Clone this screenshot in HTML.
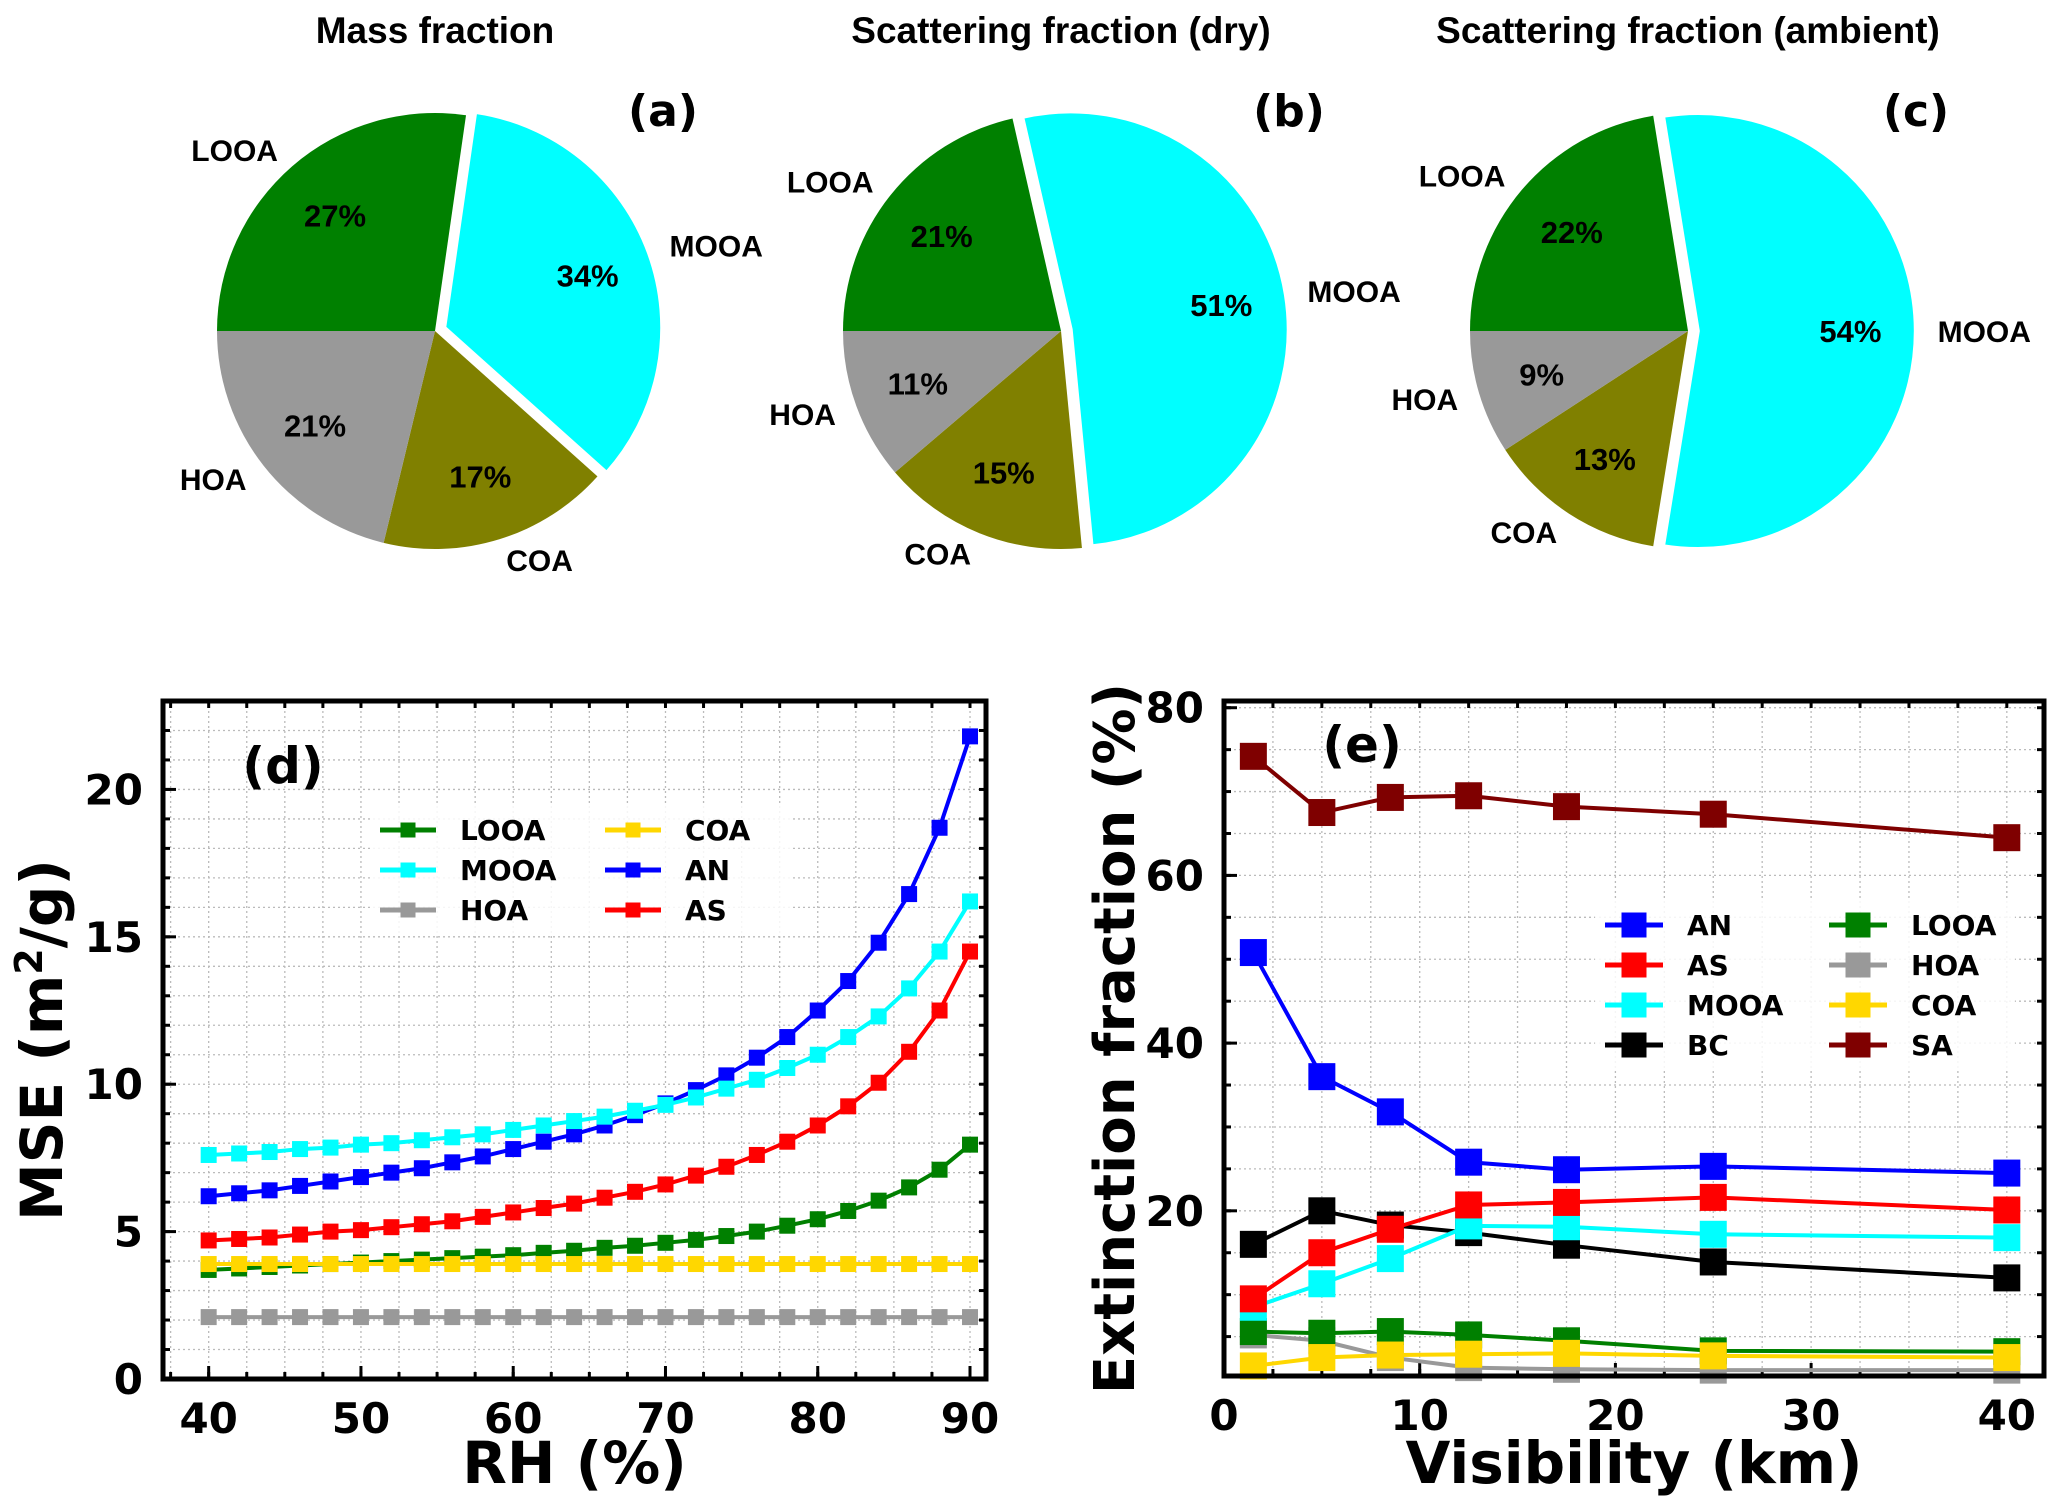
<!DOCTYPE html>
<html><head><meta charset="utf-8"><style>
html,body{margin:0;padding:0;background:#fff;}
svg{display:block;}
text{font-family:"DejaVu Sans","Liberation Sans",sans-serif;font-weight:bold;}
.pl{font-family:"Liberation Sans",sans-serif;font-weight:bold;}
</style></head><body>
<svg id="fig" width="2067" height="1512" viewBox="0 0 2067 1512" xmlns="http://www.w3.org/2000/svg"></svg>
<script>
// ---------- pie data ----------
const pieLabels = ["LOOA","MOOA","COA","HOA"];
const pieColors = ["#008000","#00ffff","#808000","#999999"];
const pieA = [27,34,17,21];
const pieB = [21,51,15,11];
const pieC = [22,54,13,9];
const pieTitles = ["Mass fraction","Scattering fraction (dry)","Scattering fraction (ambient)"];
const pieTags = ["(a)","(b)","(c)"];
// ---------- panel d data ----------
const rh = [40,42,44,46,48,50,52,54,56,58,60,62,64,66,68,70,72,74,76,78,80,82,84,86,88,90];
const dLOOA = [3.7,3.75,3.8,3.85,3.9,3.95,4.0,4.05,4.1,4.15,4.2,4.28,4.35,4.45,4.52,4.62,4.72,4.85,5.0,5.2,5.42,5.7,6.05,6.5,7.1,7.95];
const dMOOA = [7.6,7.65,7.7,7.8,7.85,7.95,8.0,8.1,8.2,8.3,8.45,8.6,8.75,8.9,9.1,9.3,9.55,9.85,10.15,10.55,11.0,11.6,12.3,13.25,14.5,16.2];
const dHOA = [2.1,2.1,2.1,2.1,2.1,2.1,2.1,2.1,2.1,2.1,2.1,2.1,2.1,2.1,2.1,2.1,2.1,2.1,2.1,2.1,2.1,2.1,2.1,2.1,2.1,2.1];
const dCOA = [3.9,3.9,3.9,3.9,3.9,3.9,3.9,3.9,3.9,3.9,3.9,3.9,3.9,3.9,3.9,3.9,3.9,3.9,3.9,3.9,3.9,3.9,3.9,3.9,3.9,3.9];
const dAN = [6.2,6.3,6.4,6.55,6.7,6.85,7.0,7.15,7.35,7.55,7.8,8.05,8.3,8.6,8.95,9.35,9.8,10.3,10.9,11.6,12.5,13.5,14.8,16.45,18.7,21.8];
const dAS = [4.7,4.75,4.8,4.9,5.0,5.05,5.15,5.25,5.35,5.5,5.65,5.8,5.95,6.15,6.35,6.6,6.9,7.2,7.6,8.05,8.6,9.25,10.05,11.1,12.5,14.5];
const dXTicks = [40,50,60,70,80,90];
const dYTicks = [0,5,10,15,20];
// ---------- panel e data ----------
const vis = [1.5,5,8.5,12.5,17.5,25,40];
const eSA = [74.2,67.5,69.3,69.5,68.2,67.3,64.5];
const eAN = [50.8,36,31.8,25.8,24.9,25.3,24.5];
const eAS = [9.5,15,17.8,20.7,21,21.6,20.1];
const eMOOA = [8.5,11.3,14.3,18.2,18.1,17.2,16.8];
const eBC = [16,20,18.3,17.4,15.9,13.9,12];
const eLOOA = [5.6,5.4,5.6,5.2,4.5,3.3,3.2];
const eHOA = [5.2,4.5,2.5,1.3,1.1,1.0,1.0];
const eCOA = [1.5,2.5,2.8,2.9,3.0,2.7,2.5];
const eXTicks = [0,10,20,30,40];
const eYTicks = [20,40,60,80];

const NS="http://www.w3.org/2000/svg";
const svg=document.getElementById('fig');
function mk(tag,attrs,parent,txt){const e=document.createElementNS(NS,tag);for(const k in attrs)e.setAttribute(k,attrs[k]);if(txt!==undefined)e.textContent=txt;(parent||svg).appendChild(e);return e;}

// ---------- pies ----------
const pieData=[pieA,pieB,pieC];
const pieCx=[435,1061,1688], pieCy=331, R=218;
pieData.forEach((vals,pi)=>{
  const g=mk('g',{});
  
  
  const t=mk('text',{x:pieCx[pi],y:43,'text-anchor':'middle','font-size':37,class:'pl'},g,pieTitles[pi]);
  
  
  const tg=mk('text',{x:pieCx[pi]+228,y:126,'text-anchor':'middle','font-size':44},g,pieTags[pi]);
  
  
  const tot=vals.reduce((a,b)=>a+b,0);
  let ang=180;
  vals.forEach((v,i)=>{
    const sweep=v/tot*360;
    const a0=ang, a1=ang-sweep, mid=(a0+a1)/2*Math.PI/180;
    ang=a1;
    const ex = i===1?0.045*R:0;
    const cx=pieCx[pi]+ex*Math.cos(mid), cy=pieCy-ex*Math.sin(mid);
    const p0=[cx+R*Math.cos(a0*Math.PI/180),cy-R*Math.sin(a0*Math.PI/180)];
    const p1=[cx+R*Math.cos(a1*Math.PI/180),cy-R*Math.sin(a1*Math.PI/180)];
    const large=sweep>180?1:0;
    const s=mk('path',{d:`M${cx},${cy} L${p0[0]},${p0[1]} A${R},${R} 0 ${large} 1 ${p1[0]},${p1[1]} Z`,fill:pieColors[i],stroke:'#fff','stroke-width':i===1?4:0},g);
    
    
    const lx=cx+1.1*R*Math.cos(mid), ly=cy-1.1*R*Math.sin(mid);
    const l=mk('text',{x:lx,y:ly+11,'text-anchor':Math.cos(mid)<0?'end':'start','font-size':30,class:'pl'},g,pieLabels[i]);
    
    
    const px=cx+0.7*R*Math.cos(mid), py=cy-0.7*R*Math.sin(mid);
    const pc=mk('text',{x:px,y:py+11,'text-anchor':'middle','font-size':31,class:'pl'},g,Math.round(v)+'%');
    
    
  });
});

// ---------- line chart helper ----------
function chart(o){
  const g=mk('g',{});
  
  
  const X=v=>o.L+(v-o.x0)/(o.x1-o.x0)*(o.R-o.L);
  const Y=v=>o.B-(v-o.y0)/(o.y1-o.y0)*(o.B-o.T);
  for(let v=o.gx0;v<=o.x1;v+=o.gdx){if(v<o.x0)continue;mk('line',{x1:X(v),x2:X(v),y1:o.T,y2:o.B,stroke:'#bbb','stroke-width':1.3,'stroke-dasharray':'2,3'},g);}
  for(let v=o.gy0;v<=o.y1;v+=o.gdy){if(v<o.y0)continue;mk('line',{x1:o.L,x2:o.R,y1:Y(v),y2:Y(v),stroke:'#bbb','stroke-width':1.3,'stroke-dasharray':'2,3'},g);}
  for(let v=o.gx0;v<=o.x1;v+=o.gdx){if(v<o.x0)continue;mk('line',{x1:X(v),x2:X(v),y1:o.B,y2:o.B-7,stroke:'#000','stroke-width':3},g);mk('line',{x1:X(v),x2:X(v),y1:o.T,y2:o.T+7,stroke:'#000','stroke-width':3},g);}
  for(let v=o.gy0;v<=o.y1;v+=o.gdy){if(v<o.y0)continue;mk('line',{x1:o.L,x2:o.L+7,y1:Y(v),y2:Y(v),stroke:'#000','stroke-width':3},g);mk('line',{x1:o.R,x2:o.R-7,y1:Y(v),y2:Y(v),stroke:'#000','stroke-width':3},g);}
  o.xt.forEach(v=>{mk('line',{x1:X(v),x2:X(v),y1:o.B,y2:o.B-13,stroke:'#000','stroke-width':3},g);
    const t=mk('text',{x:X(v),y:o.B+54,'text-anchor':'middle','font-size':42},g,String(v));});
  o.yt.forEach(v=>{mk('line',{x1:o.L,x2:o.L+13,y1:Y(v),y2:Y(v),stroke:'#000','stroke-width':3},g);
    const t=mk('text',{x:o.L-20,y:Y(v)+15,'text-anchor':'end','font-size':42},g,String(v));});
  o.series.forEach(s=>{
    const sg=mk('g',{},g);
    
    
    mk('polyline',{points:s.v.map((v,i)=>X(o.xs[i])+','+Y(v)).join(' '),fill:'none',stroke:s.c,'stroke-width':o.lw},sg);
    s.v.forEach((v,i)=>{const m=mk('rect',{x:X(o.xs[i])-o.ms/2,y:Y(v)-o.ms/2,width:o.ms,height:o.ms,fill:s.c},sg);
      });
  });
  mk('rect',{x:o.L,y:o.T,width:o.R-o.L,height:o.B-o.T,fill:'none',stroke:'#000','stroke-width':5},g);
  const lg=mk('g',{},g);
  
  
  mk('rect',{x:o.leg.x-10,y:o.leg.y-26,width:o.leg.w,height:o.leg.dy*o.leg.rows+12,fill:'#fff','fill-opacity':0.85},lg);
  o.leg.items.forEach((s,k)=>{
    const col=Math.floor(k/o.leg.rows), row=k%o.leg.rows;
    const x=o.leg.x+col*o.leg.dx, y=o.leg.y+row*o.leg.dy;
    mk('line',{x1:x,x2:x+o.leg.ll,y1:y,y2:y,stroke:s.c,'stroke-width':o.lw+1},lg);
    mk('rect',{x:x+o.leg.ll/2-o.leg.ms/2,y:y-o.leg.ms/2,width:o.leg.ms,height:o.leg.ms,fill:s.c},lg);
    const t=mk('text',{x:x+o.leg.ll+24,y:y+10,'font-size':28},lg,s.n);
    
  });
  const pl=mk('text',{x:o.tag[0],y:o.tag[1],'text-anchor':'middle','font-size':50},g,o.tagT);
  
  const xl=mk('text',{x:(o.L+o.R)/2,y:1483,'text-anchor':'middle','font-size':58},g,o.xl);
  
  const yl=mk('text',{x:0,y:0,'text-anchor':'middle','font-size':o.yfs,transform:`translate(${o.ylx},${(o.T+o.B)/2}) rotate(-90)`},g);
  yl.innerHTML=o.yl;
  
}
const C={LOOA:'#008000',MOOA:'#00ffff',HOA:'#999999',COA:'#ffd700',AN:'#0000ff',AS:'#ff0000',BC:'#000000',SA:'#7f0000'};
const dSeries=[{n:'HOA',v:dHOA,c:C.HOA},{n:'LOOA',v:dLOOA,c:C.LOOA},{n:'COA',v:dCOA,c:C.COA},{n:'AS',v:dAS,c:C.AS},{n:'AN',v:dAN,c:C.AN},{n:'MOOA',v:dMOOA,c:C.MOOA}];
chart({name:'mse-chart',L:163,R:986,T:701,B:1379,x0:37,x1:91.05,y0:0,y1:23,xs:rh,xt:dXTicks,yt:dYTicks,gx0:37.5,gdx:2.5,gy0:0,gdy:1,lw:4,ms:16,yfs:58,
  series:dSeries,tag:[283,783],tagT:'(d)',xl:'RH (%)',ylx:62,yl:'MSE (m<tspan dy="-20" font-size="38">2</tspan><tspan dy="20">/g)</tspan>',
  leg:{x:380,y:830,dx:225,dy:40,rows:3,ll:56,ms:15,w:420,items:[{n:'LOOA',c:C.LOOA},{n:'MOOA',c:C.MOOA},{n:'HOA',c:C.HOA},{n:'COA',c:C.COA},{n:'AN',c:C.AN},{n:'AS',c:C.AS}]}});
const eSeries=[{n:'HOA',v:eHOA,c:C.HOA},{n:'LOOA',v:eLOOA,c:C.LOOA},{n:'COA',v:eCOA,c:C.COA},{n:'BC',v:eBC,c:C.BC},{n:'MOOA',v:eMOOA,c:C.MOOA},{n:'AS',v:eAS,c:C.AS},{n:'AN',v:eAN,c:C.AN},{n:'SA',v:eSA,c:C.SA}];
chart({name:'extinction-chart',L:1224,R:2044,T:701,B:1376,x0:0,x1:41.9,y0:0.3,y1:80.8,xs:vis,xt:eXTicks,yt:eYTicks,gx0:0,gdx:2.5,gy0:5,gdy:5,lw:4,ms:27,yfs:56,
  series:eSeries,tag:[1362,762],tagT:'(e)',xl:'Visibility (km)',ylx:1134,yl:'Extinction fraction (%)',
  leg:{x:1605,y:925,dx:224,dy:40,rows:4,ll:58,ms:25,w:420,items:[{n:'AN',c:C.AN},{n:'AS',c:C.AS},{n:'MOOA',c:C.MOOA},{n:'BC',c:C.BC},{n:'LOOA',c:C.LOOA},{n:'HOA',c:C.HOA},{n:'COA',c:C.COA},{n:'SA',c:C.SA}]}});
</script>
</body></html>
